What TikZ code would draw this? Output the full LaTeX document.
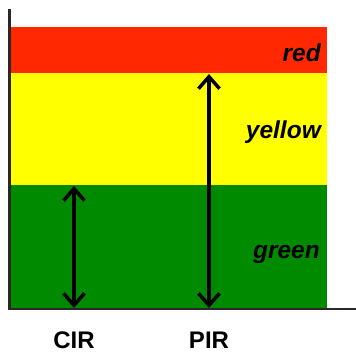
\documentclass[tikz,border=0pt]{standalone}
\usepackage{fontspec}
\setmainfont{Liberation Sans}
\usetikzlibrary{arrows.meta}
\definecolor{bandred}{RGB}{255,40,0}
\definecolor{bandyellow}{RGB}{255,255,0}
\definecolor{bandgreen}{RGB}{0,138,0}
\definecolor{axisgray}{RGB}{40,40,40}
\tikzset{
  bandlabel/.style={anchor=base east, inner sep=0pt, font=\fontsize{24.5}{28}\selectfont\bfseries\itshape},
  ratelabel/.style={anchor=base, inner sep=0pt, font=\fontsize{24}{28}\selectfont\bfseries},
  barb/.tip={Straight Barb[length=12pt,width=21pt]},
  rate/.style={line width=3.5pt, {barb}-{barb}},
  axis/.style={draw=axisgray}
}
\begin{document}
\begin{tikzpicture}[x=1pt,y=-1pt]
\useasboundingbox (0,0) rectangle (356,354);
% colour bands
\fill[bandred]    (9,27)  rectangle (327,73);
\fill[bandyellow] (9,73)  rectangle (327,185);
\fill[bandgreen]  (9,185) rectangle (327,309);
% axes
\draw[axis, line width=1.5pt] (9,309) -- (356,309);
\draw[axis, line width=3pt] (9,9) -- (9,310);
% band labels
\node[bandlabel] (lred)    at (321,61)  {red};
\node[bandlabel] (lyellow) at (321,138) {yellow};
\node[bandlabel] (lgreen)  at (320,258) {green};
% rate arrows
\coordinate (cirtop) at (74,186);
\coordinate (cirbot) at (74,308);
\coordinate (pirtop) at (209,74);
\coordinate (pirbot) at (209,308);
\draw[rate] (cirbot) -- (cirtop);
\draw[rate] (pirbot) -- (pirtop);
% rate labels
\node[ratelabel] (cir) at (74,348)  {CIR};
\node[ratelabel] (pir) at (209,348) {PIR};
\end{tikzpicture}
\end{document}
